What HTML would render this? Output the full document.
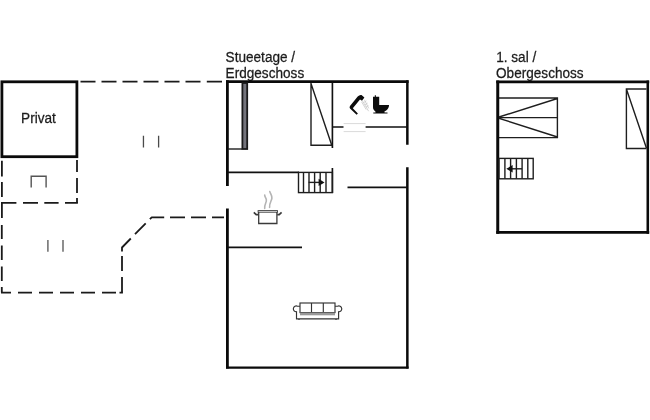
<!DOCTYPE html>
<html><head><meta charset="utf-8"><title>Floor plan</title>
<style>
html,body{margin:0;padding:0;background:#fff;}
body{width:650px;height:420px;overflow:hidden;}
svg{display:block;will-change:transform;}
text{font-family:"Liberation Sans",sans-serif;font-size:13.6px;fill:#1c1c1c;stroke:#1c1c1c;stroke-width:0.25;}
.w{stroke:#0a0a0a;stroke-width:2.8;fill:none;stroke-linecap:butt;}
.m{stroke:#111;stroke-width:1.65;fill:none;}
.t{stroke:#1e1e1e;stroke-width:1.4;fill:none;}
.d{stroke:#1a1a1a;stroke-width:1.8;fill:none;}
.g{stroke:#555;stroke-width:1.4;fill:none;}
</style></head><body>
<svg width="650" height="420" viewBox="0 0 650 420">
<rect width="650" height="420" fill="#fff"/>

<!-- labels -->
<text transform="translate(21.1 122.9) scale(1 1.05)">Privat</text>
<text transform="translate(225.6 61.9) scale(1 1.05)">Stueetage /</text>
<text transform="translate(225.6 77.8) scale(1 1.05)">Erdgeschoss</text>
<text transform="translate(496.2 61.9) scale(1 1.05)">1. sal /</text>
<text transform="translate(496 77.8) scale(1 1.05)">Obergeschoss</text>

<!-- Privat box -->
<rect class="w" x="1.9" y="81.8" width="75" height="74.9" stroke-width="2.9"/>

<!-- dashed outline -->
<g class="d">
<!-- top -->
<path d="M80.5 81.6H95.5M101.5 81.6H116.5M122.5 81.6H137.5M143.5 81.6H158.5M164.5 81.6H179.5M185.5 81.6H200.5M206.8 81.6H222"/>
<!-- left vertical under privat -->
<path d="M1.9 160.7V176.5M1.9 182V197M1.9 202V218M1.8 225V239M1.8 245.5V260M1.8 266.5V281M1.8 287V292.6"/>
<!-- mid horizontal -->
<path d="M1 202.8H16.4M23 202.8H38M44.3 202.8H58.6M65 202.8H77.9"/>
<!-- right vertical under privat -->
<path d="M77 160V172M77 178V193M77 198V203"/>
<!-- bottom -->
<path d="M1 292.6H11M18 292.6H32M39 292.6H53M60 292.6H74M81 292.6H95M102 292.6H116M119.5 292.6H122.9"/>
<!-- right vertical lower -->
<path d="M122 292.6V277M122 271V256"/>
<!-- diagonal -->
<path stroke-linejoin="round" d="M122 251.4V247.5L130.8 238.5M135 234.2L145.7 223.4M149.9 219.1L151.7 217.3H164.2M170 217.4H185M191 217.4H206M212 217.3H224"/>
</g>

<!-- small gray door symbols -->
<g class="g">
<path d="M143.45 135.8V147.4M158.6 135.8V147.4" stroke="#4a4a4a" stroke-width="1.3"/>
<path d="M47.9 240V251.8M63 240V251.8" stroke="#606060"/>
<path d="M31.2 187.4V176.3H46.1V187.4"/>
</g>

<!-- main building walls -->
<g class="w">
<path d="M227.4 186V80.3M227.4 208.5V368.6" stroke-width="2.8"/>
<path d="M226 81.6H408.6" stroke-width="2.6"/>
<path d="M407.35 80.3V144.7M407.35 167.2V368.6" stroke-width="2.5"/>
<path d="M226 367.55H408.6" stroke-width="2.2"/>
</g>
<g class="m">
<path d="M332.4 83V148"/>
<path d="M332.4 168V193"/>
<path d="M228 172.4H299"/>
<path d="M347.5 187.3H407"/>
<path d="M228 247.4H302"/>
<path d="M333 127H343.5M365.6 127H407"/>
</g>
<!-- wardrobe -->
<rect x="242.4" y="83" width="4.8" height="66" fill="#74747c" stroke="#1a1a1a" stroke-width="1.8"/>
<path class="t" d="M228 149H242"/>
<!-- door (light) -->
<path d="M343.6 123.6H365.6M343.6 131.6H365.6" stroke="#dadada" stroke-width="1" fill="none"/>
<!-- bed ground floor -->
<path class="t" d="M311 83V145.2H332M311 83.5L332 146"/>
<!-- stairs ground floor -->
<g class="t">
<rect x="298.5" y="172.4" width="33.9" height="20.2"/>
<path d="M303.5 172.4V192.6M309 172.4V192.6M314.6 172.4V192.6M320.2 172.4V192.6M326 172.4V192.6"/>
<path d="M308.6 182.4H320"/>
</g>
<path d="M318.6 178.8L324.5 182.4L318.6 186Z" fill="#111"/>

<!-- shower icon -->
<path d="M356.6 114.7L350 108.4Q349.1 107.4 350 106.1L357.7 96.5Q359.5 94.5 361.5 95L364.4 97.5L362 100.8L360 99.5L352.8 108.2L357.9 113.5Z" fill="#0c0c0c"/>
<path d="M362.3 100.6L368.6 111.2M364.4 99.8L368.8 108.4M361.6 101.8L366.2 109.6M363.6 102.6L366.4 100.9M364.8 104.9L367.6 103.1M366 107.1L368.4 105.7" stroke="#c8c8c8" stroke-width="0.8" fill="none"/>
<!-- toilet icon -->
<path d="M373 96.8H374.8V95.2H375.9V96.8H379.2V105H389C389.2 108 387 110.4 384.4 111.4L384.6 112.4H387.5V113.6H373.3V112.4H375.6L375.4 111.4C373.8 110.4 373 109 373 107Z" fill="#0c0c0c"/>

<!-- pot icon -->
<g stroke="#3a3a3a" stroke-width="1.3" fill="none">
<path d="M258.7 212V223.5H276.9V212"/>
<rect x="258.1" y="210.6" width="19.4" height="1.6" stroke-width="0.9"/>
<path d="M258.4 214.6H256.2L253.8 212.4M277.2 214.6H279.2L281.6 212.4" stroke-width="1.7"/>
</g>
<path d="M264.7 208.4C264.2 204 267 202.500 266.300 199.500C265.800 197.500 264.600 196.500 264.700 195M269.600 207.400C269.200 203 271.600 201 271.900 198.200C272.200 195.500 270.300 193.500 269.800 191.600" stroke="#b4b4b4" stroke-width="1.6" fill="none" stroke-linecap="round"/>

<!-- sofa icon -->
<g stroke="#333" stroke-width="1.15" fill="none">
<rect x="300" y="303" width="35" height="9.6"/>
<path d="M311.5 303V312.6M323.3 303V312.6"/>
<path d="M300 306.2H297.5A2.9 2.9 0 1 0 296.5 311.7V318.9H338.6V311.7A2.9 2.9 0 1 0 337.6 306.2H335"/>
<path d="M299 319V320M336 319V320"/>
</g>
<rect x="300" y="312.6" width="35" height="2.7" fill="#999"/>

<!-- upper floor -->
<g class="w">
<path d="M497.75 80.5V233.8" stroke-width="3"/>
<path d="M496.25 81.9H649.2" stroke-width="2.8"/>
<path d="M647.8 80.5V233.8" stroke-width="2.6"/>
<path d="M496.25 232.4H649.2" stroke-width="2.8"/>
</g>
<g class="t">
<path d="M499 98H557.4V137.6H499M499 117.6H557.4M557.4 98.5L499 117M499 118.3L557.4 137"/>
<path d="M646.5 89H626.4V148.5H646.5M626.4 89L646.5 148.2"/>
<rect x="499" y="158.4" width="34.2" height="20.4"/>
<path d="M504.9 158.4V178.8M510.6 158.4V178.8M516.4 158.4V178.8M522.1 158.4V178.8M527.8 158.4V178.8"/>
<path d="M522 168.8H511"/>
</g>
<path d="M512.6 165.1L506.3 168.8L512.6 172.5Z" fill="#111"/>
</svg>
</body></html>
